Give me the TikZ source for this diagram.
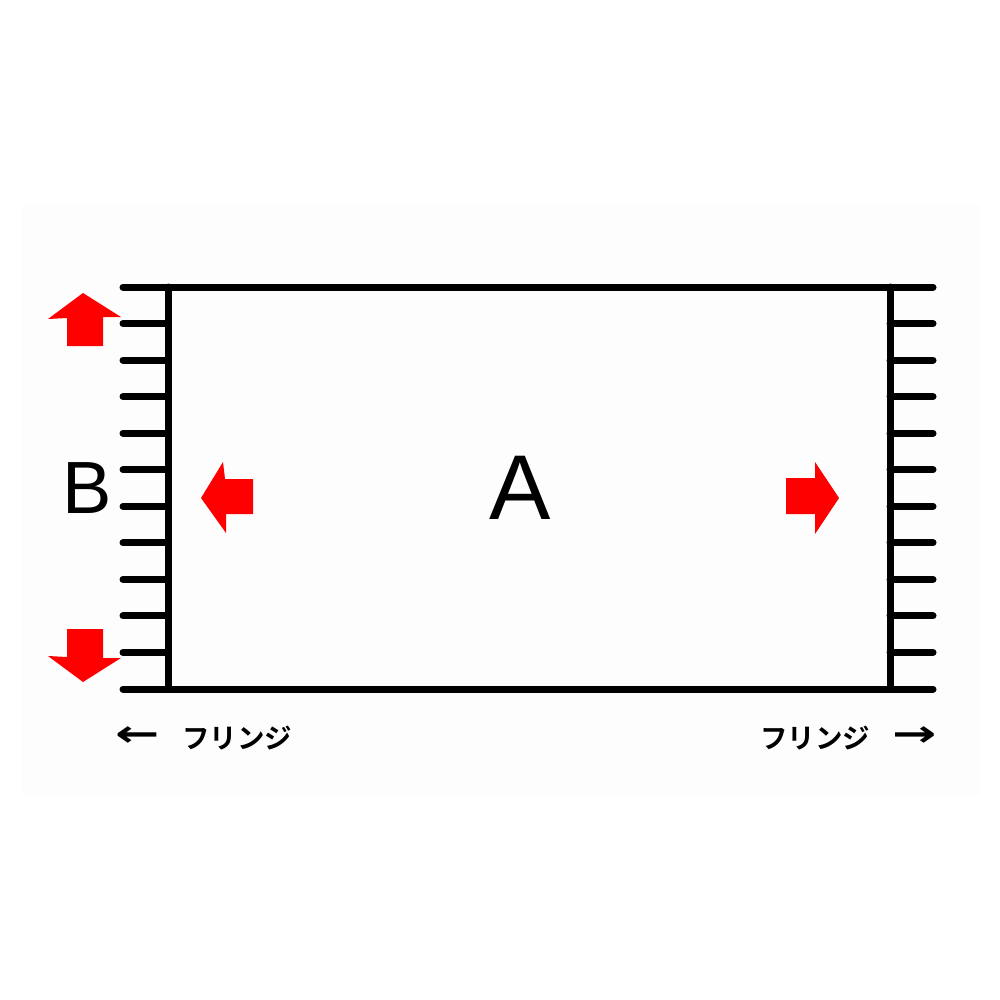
\documentclass[tikz,border=0pt]{standalone}
\usepackage{fontspec}
\setmainfont{Liberation Sans}
\newfontfamily\jpfont{Noto Sans CJK JP}[BoldFont={* Bold}]
\newfontfamily\arrowfont{DejaVu Sans}
\begin{document}
\begin{tikzpicture}[x=1pt,y=-1pt,
  frame/.style={line width=7pt,line cap=round,black},
  redarrow/.style={fill=red,draw=none},
  biglabel/.style={inner sep=0pt,font=\fontsize{#1}{#1}\selectfont},
  jplabel/.style={inner sep=0pt,font=\jpfont\bfseries\fontsize{27.5}{27.5}\selectfont},
  jparrow/.style={inner sep=0pt,xscale=1.15,yscale=0.8,font=\arrowfont\bfseries\fontsize{46}{46}\selectfont}]
\useasboundingbox (0,0) rectangle (1000,1000);
\fill[white] (0,0) rectangle (1000,1000);
\fill[black!0.8] (22,205) rectangle (980,795);
% frame
\draw[frame] (168,287) -- (168,689);
\draw[frame] (890,287) -- (890,689);
\foreach \k in {0,...,11}{
  \draw[frame] (123,{287+\k*36.545}) -- (168,{287+\k*36.545});
  \draw[frame] (890,{287+\k*36.545}) -- (933,{287+\k*36.545});
}
\draw[frame] (168,287) -- (890,287);
\draw[frame] (168,689) -- (890,689);
% red arrows
\fill[redarrow] (83,293) -- (121,317) -- (103,317) -- (103,346) -- (67,346) -- (67,318) -- (48,319) -- cycle;
\fill[redarrow] (83,682) -- (121,658) -- (103,658) -- (103,629) -- (67,629) -- (67,657) -- (48,656) -- cycle;
\fill[redarrow] (201,498) -- (223,462) -- (225,479) -- (253,479) -- (253,514) -- (226,514) -- (226,533) -- cycle;
\fill[redarrow] (839,498) -- (815,462) -- (815,478) -- (786,478) -- (786,514) -- (815,514) -- (815,534) -- cycle;
% labels
\node[biglabel=92] (A) at (520,488) {A};
\node[biglabel=74] (B) at (87,488) {B};
\node[jparrow] (la) at (138,737) {←};
\node[jplabel] (lf) at (237,738) {フリンジ};
\node[jplabel] (rf) at (815,738) {フリンジ};
\node[jparrow] (ra) at (915,737) {→};
\end{tikzpicture}
\end{document}
